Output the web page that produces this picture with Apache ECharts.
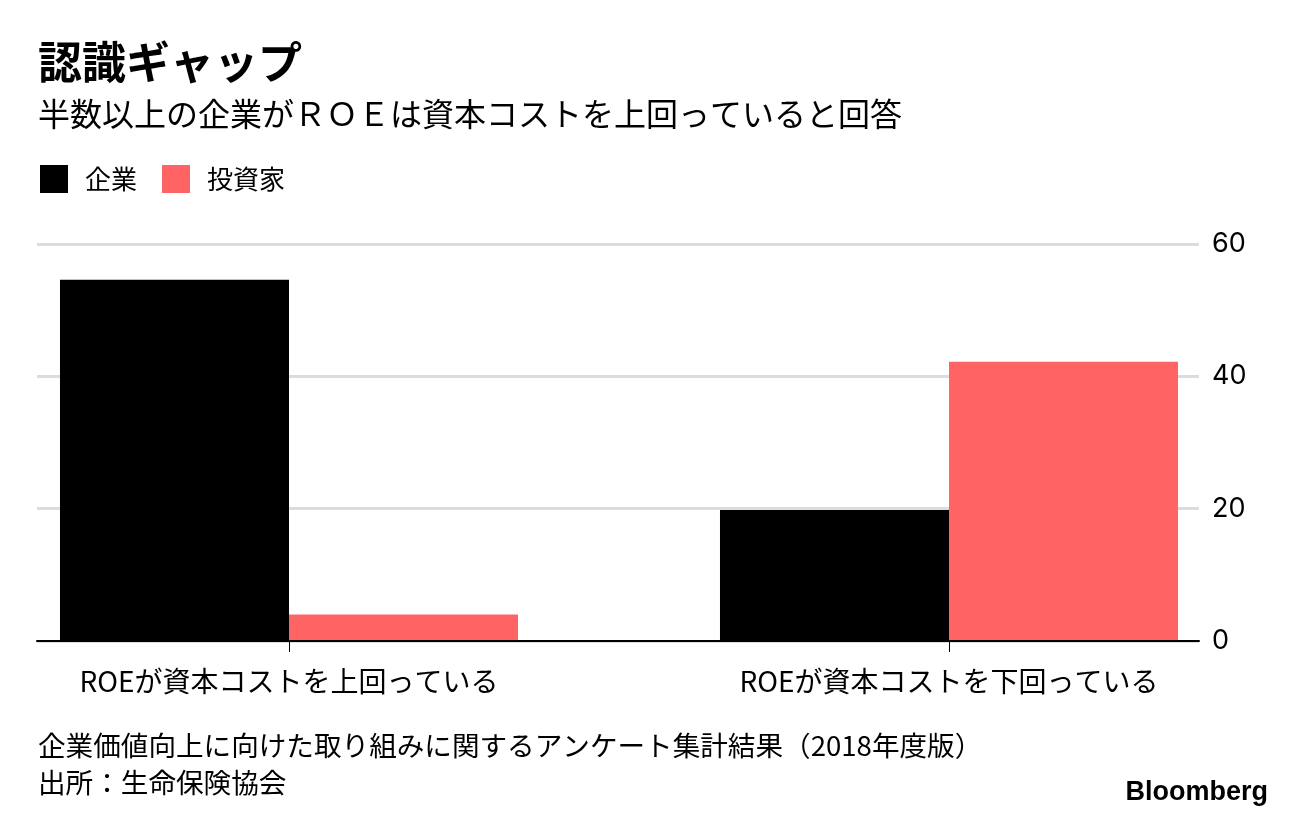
<!DOCTYPE html>
<html><head><meta charset="utf-8">
<script src="https://cdn.jsdelivr.net/npm/echarts@6/dist/echarts.min.js"></script>
<style>html,body{margin:0;padding:0;background:#fff}#c{width:1296px;height:820px}</style>
</head><body><div id="c"></div>
<script>
const categories = ['ROEが資本コストを上回っている', 'ROEが資本コストを下回っている'];
const seriesNames = ['企業', '投資家'];
const companyValues = [54.6, 19.8];
const investorValues = [4.0, 42.2];
const yTicks = [0, 20, 40, 60];
const titleText = '認識ギャップ';
const subtitleText = '半数以上の企業がＲＯＥは資本コストを上回っていると回答';
const noteText = '企業価値向上に向けた取り組みに関するアンケート集計結果（2018年度版）';
const sourceText = '出所：生命保険協会';

const JP = '"Noto Sans CJK JP", "Noto Sans", sans-serif';
const NUM = 'Inter, "Liberation Sans", sans-serif';
const chart = echarts.init(document.getElementById('c'));
chart.setOption({
  animation: false,
  backgroundColor: '#fff',
  title: [
    {text: titleText, left: 33, top: 35, textStyle: {fontFamily: JP, fontSize: 44, fontWeight: 'bold', color: '#000'}},
    {text: subtitleText, left: 33, top: 93, textStyle: {fontFamily: JP, fontSize: 32, fontWeight: 'normal', color: '#000'}},
    {text: noteText, left: 33, top: 727, textStyle: {fontFamily: JP, fontSize: 27.6, fontWeight: 'normal', color: '#000'}},
    {text: sourceText, left: 33, top: 764, textStyle: {fontFamily: JP, fontSize: 27.6, fontWeight: 'normal', color: '#000'}},
    {text: 'Bloomberg', right: 23, top: 774, textStyle: {fontFamily: '"Liberation Sans", Arial, sans-serif', fontSize: 27, fontWeight: 'bold', color: '#000'}}
  ],
  legend: {
    left: 40, top: 165, padding: 0, icon: 'rect', itemWidth: 28, itemHeight: 28, itemGap: 25,
    textStyle: {fontFamily: JP, fontSize: 26, color: '#000', padding: [0,0,0,12]},
    data: seriesNames
  },
  grid: [
    {left: 289, right: 347, top: 244, bottom: 179},
    {left: 37, right: 97, top: 244, bottom: 179}
  ],
  xAxis: [
    {type: 'category', gridIndex: 0, data: categories, boundaryGap: false,
     axisLine: {show: false},
     axisTick: {show: true, length: 11, lineStyle: {color: '#000', width: 1}, interval: 0},
     axisLabel: {interval: 0, margin: 26, fontFamily: JP, fontSize: 28, color: '#000'}},
    {type: 'category', gridIndex: 1, data: categories,
     axisLine: {show: true, lineStyle: {color: '#000', width: 2}},
     axisTick: {show: false}, axisLabel: {show: false}, z: 10}
  ],
  yAxis: [
    {type: 'value', gridIndex: 0, min: 0, max: 60, interval: 20, show: false, splitLine: {show: false}},
    {type: 'value', gridIndex: 1, min: 0, max: 60, interval: 20, position: 'right',
     axisLine: {show: false}, axisTick: {show: false},
     axisLabel: {margin: 13, fontFamily: NUM, fontSize: 27, color: '#000', customValues: yTicks},
     splitLine: {show: true, lineStyle: {color: '#dcdcdc', width: 3}}}
  ],
  series: [
    {name: seriesNames[0], type: 'bar', xAxisIndex: 0, yAxisIndex: 0, data: companyValues, clip: false,
     itemStyle: {color: '#000000'}, barGap: '0%', barCategoryGap: '30.6%', z: 3},
    {name: seriesNames[1], type: 'bar', xAxisIndex: 0, yAxisIndex: 0, data: investorValues, clip: false,
     itemStyle: {color: '#ff6464'}, barGap: '0%', barCategoryGap: '30.6%', z: 3}
  ]
});
</script></body></html>
